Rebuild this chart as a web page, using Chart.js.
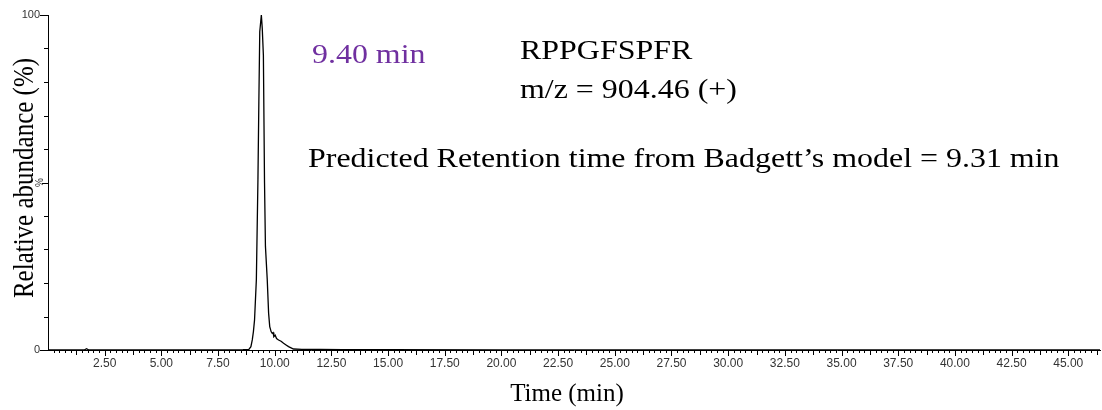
<!DOCTYPE html>
<html>
<head>
<meta charset="utf-8">
<script src="https://cdn.jsdelivr.net/npm/chart.js@4/dist/chart.umd.min.js"></script>
<style>
  body { margin: 0; background: #fff; }
  #wrap { width: 1102px; height: 410px; }
</style>
</head>
<body>
<div id="wrap"><canvas id="myChart" width="1102" height="410"></canvas></div>
<script>
// retention time (min) and relative abundance (%)
const times = [0, 1.6, 1.7, 1.8, 5.0, 8.0, 8.6, 8.86, 8.95, 9.01, 9.06, 9.11, 9.19, 9.26, 9.30, 9.34, 9.41,
    9.45, 9.50, 9.55, 9.59, 9.67, 9.73, 9.78, 9.84, 9.89, 9.93, 9.96, 10.02, 10.08, 10.17, 10.28, 10.39,
    10.5, 10.61, 10.83, 11.2, 12.0, 13.0, 15.0, 20.0, 30.0, 46.4];
const abundance = [0, 0, 0.4, 0, 0, 0, 0.1, 0.2, 1, 3, 5.5, 9, 21, 51, 74, 95, 100,
    96, 88, 50, 31, 21, 11, 7, 5.5, 5, 5.2, 4, 4.4, 3.4, 3, 2.6, 2,
    1.5, 1, 0.3, 0.2, 0.15, 0.1, 0.1, 0, 0, 0];

const xMin = 0;
const xMax = 46.4;
const xLabelStep = 2.5;
const xMinorStep = 0.25;
const yTickStep = 10;

const stretch = 1.17;

function stretchText(ctx, text, x, y, font, color) {
    ctx.save();
    ctx.font = font;
    ctx.fillStyle = color;
    ctx.textBaseline = 'alphabetic';
    ctx.textAlign = 'left';
    ctx.translate(x, y);
    ctx.scale(stretch, 1);
    ctx.fillText(text, 0, 0);
    ctx.restore();
}

const extras = {
    id: 'extras',
    afterDraw(chart) {
        const ctx = chart.ctx;
        const x = chart.scales.x;
        const y = chart.scales.y;
        ctx.save();
        ctx.strokeStyle = '#000';
        ctx.lineWidth = 1;
        ctx.beginPath();
        // x tick marks: minor every 0.25, medium every 1.25, long every 2.5
        for (let i = 1; i * xMinorStep <= xMax; i++) {
            const px = Math.round(x.getPixelForValue(i * xMinorStep)) + 0.5;
            const len = i % 10 === 0 ? 6 : (i % 5 === 0 ? 5 : 3);
            ctx.moveTo(px, y.bottom);
            ctx.lineTo(px, y.bottom + len);
        }
        // y tick marks
        for (let v = 0; v <= 100; v += yTickStep) {
            const py = Math.round(y.getPixelForValue(v)) + 0.5;
            const len = (v === 0 || v === 100) ? 8 : (v === 50 ? 6 : 4);
            ctx.moveTo(x.left, py);
            ctx.lineTo(x.left - len, py);
        }
        ctx.stroke();

        // small % marker at 50
        ctx.save();
        ctx.translate(40, y.getPixelForValue(50));
        ctx.rotate(-Math.PI / 2);
        ctx.font = '10px "Liberation Sans", Arial, sans-serif';
        ctx.fillStyle = '#333';
        ctx.textAlign = 'center';
        ctx.textBaseline = 'middle';
        ctx.fillText('%', 0, 0);
        ctx.restore();

        // axis titles
        ctx.font = '25px "Liberation Serif", "Times New Roman", serif';
        ctx.fillStyle = '#000';
        ctx.textAlign = 'center';
        ctx.textBaseline = 'alphabetic';
        ctx.fillText('Time (min)', 567, 401);

        ctx.save();
        ctx.translate(33, 178);
        ctx.scale(stretch, 1);
        ctx.rotate(-Math.PI / 2);
        ctx.font = '25px "Liberation Serif", "Times New Roman", serif';
        ctx.textAlign = 'center';
        ctx.fillText('Relative abundance (%)', 0, 0);
        ctx.restore();

        // annotations
        const serif = '27.3px "Liberation Serif", "Times New Roman", serif';
        stretchText(ctx, '9.40 min', 312, 63, serif, '#7030A0');
        stretchText(ctx, 'RPPGFSPFR', 520, 59, serif, '#000');
        stretchText(ctx, 'm/z = 904.46 (+)', 520, 98, serif, '#000');
        stretchText(ctx, 'Predicted Retention time from Badgett\u2019s model = 9.31 min', 308, 167, serif, '#000');
        ctx.restore();
    }
};

function onStep(v, step) {
    return Math.abs(v / step - Math.round(v / step)) < 1e-6;
}

const points = times.map((t, i) => ({ x: t, y: abundance[i] }));

const config = {
    type: 'line',
    data: {
        datasets: [{
            data: points,
            borderColor: '#000',
            borderWidth: 1.3,
            pointRadius: 0,
            tension: 0,
            fill: false
        }]
    },
    options: {
        responsive: false,
        animation: false,
        layout: { padding: { top: 15, right: 2, left: 0, bottom: 0 } },
        plugins: {
            legend: { display: false },
            tooltip: { enabled: false }
        },
        scales: {
            x: {
                type: 'linear',
                min: xMin,
                max: xMax,
                afterFit: (scale) => { scale.height = 60; },
                border: { display: true, color: '#000', width: 1 },
                grid: { drawOnChartArea: false, drawTicks: false },
                ticks: {
                    stepSize: xLabelStep,
                    includeBounds: false,
                    autoSkip: false,
                    maxRotation: 0,
                    padding: 6,
                    color: '#333',
                    font: { family: '"Liberation Sans", Arial, sans-serif', size: 12 },
                    callback: (v) => (v > 0 && onStep(v, xLabelStep)) ? v.toFixed(2) : ''
                }
            },
            y: {
                min: 0,
                max: 100,
                afterFit: (scale) => { scale.width = 48; },
                border: { display: true, color: '#000', width: 1 },
                grid: { drawOnChartArea: false, drawTicks: false },
                ticks: {
                    stepSize: yTickStep,
                    autoSkip: false,
                    padding: 8,
                    color: '#333',
                    font: { family: '"Liberation Sans", Arial, sans-serif', size: 11 },
                    callback: (v) => (v === 0 || v === 100) ? String(v) : ''
                }
            }
        }
    },
    plugins: [extras]
};

const myChart = new Chart(document.getElementById('myChart'), config);
</script>
</body>
</html>
